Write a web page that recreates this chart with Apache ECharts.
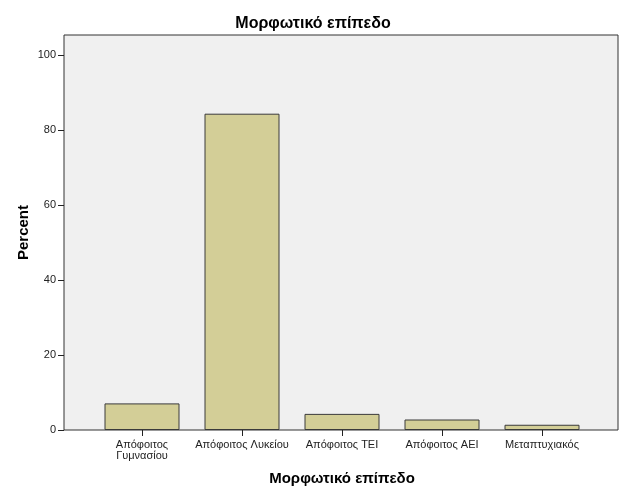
<!DOCTYPE html>
<html><head><meta charset="utf-8">
<script src="https://cdn.jsdelivr.net/npm/echarts@6/dist/echarts.min.js"></script>
<style>html,body{margin:0;padding:0;background:#fff}#c{width:626px;height:501px}</style>
</head><body><div id="c"></div>
<script>
const titleText = 'Μορφωτικό επίπεδο';
const categories = ['Απόφοιτος\nΓυμνασίου', 'Απόφοιτος Λυκείου', 'Απόφοιτος ΤΕΙ', 'Απόφοιτος ΑΕΙ', 'Μεταπτυχιακός'];
const percentValues = [7.1, 84.4, 4.3, 2.8, 1.4];
const yTicks = [0, 20, 40, 60, 80, 100];

const chart = echarts.init(document.getElementById('c'));
const font = 'Liberation Sans, Arial, sans-serif';
chart.setOption({
  animation: false,
  backgroundColor: '#ffffff',
  title: {
    text: titleText, left: 'center', top: 11,
    textStyle: {fontFamily: font, fontSize: 16, fontWeight: 'bold', color: '#000'}
  },
  grid: [
    {left: 64, right: 8, top: 35, bottom: 71, show: true, backgroundColor: '#f0f0f0', borderColor: '#333', borderWidth: 1, containLabel: false},
    {left: 92, right: 34, top: 35, bottom: 71, containLabel: false}
  ],
  xAxis: [
    {type: 'value', gridIndex: 0, show: false, min: 0, max: 1},
    {type: 'category', gridIndex: 1, data: categories,
     axisLine: {show: false},
     axisTick: {show: true, alignWithLabel: true, inside: false, length: 6, lineStyle: {color: '#222'}},
     axisLabel: {fontFamily: font, fontSize: 11, color: '#222', margin: 9, lineHeight: 11, interval: 0},
     name: titleText, nameLocation: 'middle', nameGap: 41, nameMoveOverlap: false,
     nameTextStyle: {fontFamily: font, fontSize: 15, fontWeight: 'bold', color: '#000'}
    }
  ],
  yAxis: [
    {type: 'value', gridIndex: 0, min: 0, max: 105.4,
     axisLine: {show: false},
     axisTick: {show: true, inside: false, length: 6, customValues: yTicks, lineStyle: {color: '#222'}},
     axisLabel: {customValues: yTicks, fontFamily: font, fontSize: 11, color: '#222', margin: 8},
     splitLine: {show: false},
     name: 'Percent', nameLocation: 'middle', nameGap: 33, nameMoveOverlap: false,
     nameTextStyle: {fontFamily: font, fontSize: 15, fontWeight: 'bold', color: '#000'}
    },
    {type: 'value', gridIndex: 1, min: 0, max: 105.4, show: false, splitLine: {show: false}}
  ],
  series: [{
    type: 'bar', xAxisIndex: 1, yAxisIndex: 1, data: percentValues, barWidth: 75,
    itemStyle: {color: '#d3ce97', borderColor: '#3a3a3a', borderWidth: 1}
  }]
});
</script></body></html>
